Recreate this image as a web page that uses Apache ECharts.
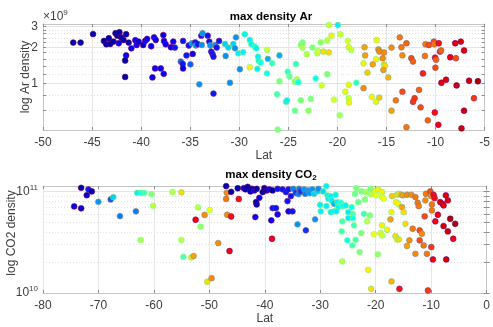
<!DOCTYPE html>
<html><head><meta charset="utf-8">
<script src="https://cdn.jsdelivr.net/npm/echarts@6/dist/echarts.min.js"></script>
<style>html,body{margin:0;padding:0;background:#fff}#c{width:493px;height:327px}</style>
</head><body><div id="c"></div>
<script>
// ---- Ar subplot: latitude, max density (x1e9), colour value (0..1, jet) ----
const arLat = [-46.92,-46.17,-44.90,-43.79,-43.55,-43.29,-43.15,-42.81,-42.61,-42.43,-42.21,-42.28,-42.04,-41.80,-41.53,-41.27,-41.00,-41.53,-41.63,-41.63,
-40.59,-40.46,-40.26,-39.79,-39.59,-39.39,-38.98,-38.68,-38.51,-38.58,-38.00,-38.85,-37.70,-37.74,-37.67,-37.50,-36.97,-36.73,-36.56,-35.96,
-35.76,-35.73,-35.38,-34.98,-35.73,-35.15,-34.82,-34.75,-34.48,-34.42,-34.21,-33.87,-33.74,-33.81,-33.21,-33.06,-32.96,-32.86,-32.73,-32.63,
-32.46,-32.30,-32.06,-34.07,-32.63,-31.45,-31.39,-31.12,-30.95,-30.61,-30.44,-30.34,-30.11,-29.94,-29.61,-29.44,-28.93,-28.77,-28.43,-28.27,
-28.93,-28.16,-28.09,-28.02,-27.82,-27.16,-27.09,-27.19,-26.65,-26.15,-25.91,-25.91,-26.08,-25.24,-25.14,-25.07,-24.90,-24.23,-24.33,-24.13,
-23.99,-24.33,-23.73,-23.56,-23.73,-23.56,-23.13,-22.95,-22.72,-22.55,-22.22,-22.05,-21.98,-21.71,-21.61,-21.44,-21.04,-21.04,-20.87,-20.87,
-20.60,-20.36,-19.96,-19.70,-19.76,-18.95,-18.85,-18.59,-18.85,-19.19,-18.85,-18.82,-18.08,-17.34,-17.34,-17.24,-17.18,-16.94,-16.50,-16.40,
-16.07,-16.00,-16.07,-15.73,-15.83,-15.73,-15.39,-15.26,-15.26,-15.16,-15.32,-14.82,-14.49,-14.49,-14.05,-13.65,-13.48,-13.38,-13.38,-12.97,
-12.97,-12.47,-12.30,-12.14,-12.30,-11.69,-11.53,-11.29,-11.09,-11.03,-10.79,-10.69,-10.18,-10.12,-10.05,-9.95,-10.02,-10.08,-9.68,-9.55,
-9.44,-9.72,-9.41,-8.94,-8.51,-8.00,-7.93,-7.86,-7.43,-7.10,-7.10,-7.36,-6.59,-6.09,-5.69];
const arDen = [2.19,2.19,2.58,2.26,2.12,2.38,2.13,2.23,2.62,2.50,2.67,2.16,2.42,2.30,2.57,2.19,1.96,1.71,1.55,1.13,
2.29,2.09,2.23,2.09,2.26,2.35,2.04,2.42,2.30,1.33,1.33,1.12,1.20,2.53,2.26,2.12,2.00,2.23,1.99,1.52,
1.45,1.33,1.71,1.44,2.26,2.07,2.16,1.76,2.20,2.07,2.12,2.50,2.62,2.09,2.50,2.23,2.07,1.84,1.76,1.67,
2.09,1.99,2.26,0.98,0.82,2.13,1.69,1.99,1.01,2.13,1.96,2.42,1.78,1.31,1.82,2.57,2.30,2.12,2.03,1.96,
1.36,1.32,1.67,1.54,1.49,1.90,1.60,1.21,1.47,0.81,1.71,1.04,0.41,0.70,0.72,1.25,1.14,1.45,1.03,1.08,
1.02,0.59,0.72,2.20,2.09,1.99,1.75,0.59,0.74,1.99,1.10,1.78,1.86,2.20,0.96,1.84,2.28,1.19,1.81,3.07,
2.50,0.73,3.07,2.57,0.54,2.26,2.00,1.90,0.97,0.85,0.75,0.69,1.01,1.47,0.91,2.00,1.71,1.23,0.77,1.44,
0.70,2.30,1.59,0.76,1.92,1.84,1.62,1.81,1.44,1.40,1.29,1.12,1.99,0.59,0.72,2.42,2.00,1.71,0.85,2.16,
0.43,1.62,1.52,0.75,0.70,0.88,0.63,1.21,1.69,2.12,0.49,2.09,2.23,2.12,1.64,1.57,1.35,0.57,2.16,1.84,
1.88,0.45,1.01,1.07,1.65,2.16,1.62,0.96,2.23,1.88,0.59,0.42,1.05,0.75,1.04];
const arCol = [.05,.05,.05,.05,.05,.05,.05,.05,.05,.05,.05,.12,.05,.05,.05,.05,.12,.12,.05,.05,
.12,.12,.10,.08,.12,.12,.12,.12,.12,.12,.12,.12,.12,.10,.12,.12,.12,.12,.15,.22,
.15,.12,.15,.22,.15,.15,.27,.12,.15,.27,.15,.15,.27,.27,.15,.15,.27,.15,.15,.15,
.27,.15,.15,.27,.15,.33,.27,.33,.27,.33,.27,.27,.36,.27,.36,.36,.36,.36,.38,.36,
.64,.36,.36,.36,.38,.58,.30,.38,.42,.44,.30,.50,.50,.36,.36,.42,.47,.42,.50,.56,
.38,.48,.50,.50,.50,.56,.56,.52,.50,.50,.38,.58,.58,.52,.60,.66,.56,.50,.66,.58,
.64,.60,.36,.58,.54,.60,.64,.58,.64,.64,.58,.64,.42,.64,.74,.72,.72,.68,.64,.72,
.64,.64,.64,.68,.74,.74,.74,.74,.66,.66,.72,.70,.74,.72,.76,.76,.76,.74,.80,.78,
.76,.80,.78,.82,.82,.78,.80,.84,.76,.76,.78,.80,.80,.76,.86,.78,.80,.86,.86,.84,
.78,.88,.90,.90,.88,.90,.80,.92,.90,.90,.92,.92,.92,.82,.95];

// ---- CO2 subplot: latitude, max density (x1e10), colour value ----
const coLat = [-73.12,-71.81,-71.20,-72.10,-74.38,-73.12,-70.02,-67.79,-67.32,-66.12,-63.25,-63.02,-62.23,-61.76,-60.43,-60.14,-62.41,-56.66,-55.04,-55.04,
-54.69,-53.25,-52.84,-52.06,-51.58,-52.48,-50.86,-49.96,-50.38,-49.60,-48.40,-46.97,-46.86,-46.97,-46.79,-46.07,-46.37,-46.07,-44.70,-44.88,
-43.81,-43.50,-43.09,-42.60,-42.30,-41.89,-41.47,-40.99,-41.58,-41.47,-41.71,-40.39,-40.09,-39.68,-39.19,-38.60,-37.70,-38.60,-37.99,-37.70,
-38.83,-38.71,-36.80,-36.19,-35.73,-35.30,-35.91,-35.73,-35.01,-34.88,-34.40,-33.81,-33.93,-33.50,-32.91,-32.73,-32.14,-31.89,-31.42,-31.11,
-30.52,-30.34,-29.50,-28.90,-28.72,-28.55,-28.11,-27.94,-27.52,-27.22,-26.93,-26.75,-26.32,-25.91,-30.04,-29.91,-28.90,-28.11,-27.52,-27.11,
-30.93,-34.11,-32.60,-26.03,-26.14,-26.03,-23.52,-23.75,-22.55,-21.72,-21.96,-20.93,-20.83,-20.16,-19.93,-19.57,-18.85,-18.85,-18.55,-26.03,
-25.42,-24.34,-24.11,-24.95,-24.95,-24.11,-23.16,-22.14,-21.06,-21.54,-23.93,-22.62,-25.13,-23.63,-24.24,-22.91,-19.62,-20.34,-19.14,-18.85,
-18.85,-17.95,-21.36,-20.83,-17.16,-17.05,-16.16,-15.85,-15.37,-15.13,-14.36,-13.57,-12.85,-16.34,-15.98,-15.26,-14.96,-17.16,-17.34,-14.65,
-16.45,-16.16,-15.85,-13.93,-14.36,-13.34,-12.85,-15.73,-12.44,-12.26,-11.18,-12.08,-11.67,-12.08,-11.36,-10.77,-10.95,-11.06,-10.16,-10.05,
-9.87,-9.87,-9.57,-9.39,-9.98,-9.69,-10.59,-9.26,-8.80,-8.37,-7.95,-7.77,-7.36,-7.00,-7.77,-7.00,-6.57,-5.67,-7.29,-6.03];
const coDen = [10.85,10.47,10.00,9.17,7.12,6.81,7.90,8.34,8.79,5.71,6.36,9.69,9.69,9.69,9.40,7.21,3.32,9.84,9.78,3.32,
2.27,2.24,2.31,6.96,4.50,5.26,5.87,6.55,1.29,1.40,3.10,11.27,9.69,8.43,5.89,5.66,2.59,9.91,8.43,10.74,
10.77,10.47,11.09,10.00,10.61,10.23,10.61,8.65,7.85,7.45,5.59,9.84,10.77,10.23,10.47,10.23,10.61,6.85,6.85,5.94,
5.19,3.42,10.47,9.84,10.47,8.99,8.03,6.36,6.36,10.61,9.69,10.61,9.40,10.00,10.47,9.47,10.23,9.62,10.47,9.47,
10.00,10.61,10.00,11.27,9.14,8.46,8.99,8.16,7.55,9.26,7.85,7.01,7.73,7.28,7.38,6.36,7.17,6.26,6.36,6.36,
5.31,4.74,4.14,5.07,4.04,2.05,10.77,9.47,10.00,9.84,8.34,10.61,9.35,10.00,9.14,10.47,9.84,8.79,8.46,7.17,
7.28,7.01,6.02,6.26,5.46,5.46,7.85,6.02,5.81,5.07,4.63,3.89,3.30,3.34,2.94,2.53,2.40,3.78,3.89,3.69,
4.63,4.19,1.69,1.10,1.30,8.99,9.26,9.47,9.26,9.14,9.26,9.26,8.79,7.85,7.55,7.01,6.26,6.26,5.31,4.80,
3.63,3.37,3.37,3.30,2.90,4.29,2.43,1.10,7.73,7.17,5.68,4.14,3.83,3.30,2.94,2.43,9.47,8.16,10.00,8.99,
7.45,6.50,9.26,8.59,2.83,2.14,1.06,5.07,5.89,7.85,7.55,7.28,9.14,8.16,4.56,4.04,5.38,4.80,2.14,3.42];
const coCol = [.05,.15,.05,.08,.12,.08,.27,.22,.33,.25,.25,.36,.38,.44,.50,.56,.54,.56,.66,.56,
.45,.65,.72,.56,.52,.88,.74,.62,.66,.74,.74,.05,.74,.76,.74,.86,.88,.05,.86,.05,
.12,.05,.05,.08,.05,.12,.05,.12,.05,.05,.12,.05,.05,.05,.12,.05,.15,.15,.15,.12,
.12,.88,.15,.15,.15,.15,.15,.12,.15,.25,.18,.25,.25,.18,.27,.25,.27,.27,.27,.33,
.33,.27,.34,.36,.36,.36,.36,.36,.30,.36,.36,.36,.38,.38,.36,.36,.36,.36,.36,.36,
.27,.27,.18,.44,.44,.56,.50,.48,.50,.54,.50,.50,.56,.64,.62,.64,.64,.62,.62,.38,
.36,.38,.46,.36,.36,.38,.48,.44,.50,.56,.44,.50,.38,.44,.44,.50,.52,.62,.64,.58,
.64,.64,.64,.66,.70,.68,.66,.66,.70,.72,.74,.74,.76,.64,.64,.72,.66,.64,.72,.66,
.66,.64,.66,.74,.72,.76,.74,.86,.76,.76,.80,.80,.74,.80,.76,.76,.76,.74,.80,.74,
.76,.76,.86,.86,.82,.88,.82,.88,.88,.90,.88,.90,.90,.90,.92,.92,.95,.95,.92,.88];

const AR_UNIT = 1e9, CO_UNIT = 1e10;
const arYMajor = [1e9, 2e9, 3e9];
const arYMinor = [0.6e9, 0.8e9, 1.2e9, 1.4e9, 1.6e9, 1.8e9, 2.2e9, 2.4e9, 2.6e9, 2.8e9];
const coYMajor = [1e10, 1e11];
const coYMinor = [2e10, 3e10, 4e10, 5e10, 6e10, 7e10, 8e10, 9e10];

function jetRGB(t) {
  const c = v => Math.max(0, Math.min(1, v));
  return [c(Math.min(4 * t - 1.5, -4 * t + 4.5)), c(Math.min(4 * t - 0.5, -4 * t + 3.5)), c(Math.min(4 * t + 0.5, -4 * t + 2.5))];
}
function rgb(a) { return 'rgb(' + a.map(v => Math.round(255 * v)).join(',') + ')'; }
function edge(t) {
  const a = jetRGB(1 - t), b = jetRGB(t);
  return rgb(a.map((v, i) => 0.55 * v + 0.45 * b[i]));
}
function pts(lat, den, col, unit) {
  return lat.map((x, i) => ({
    value: [x, den[i] * unit],
    itemStyle: { color: rgb(jetRGB(col[i])), borderColor: edge(col[i]) }
  }));
}
const FONT = 'Liberation Sans, Arial, Helvetica, sans-serif';
const AXC = '#c4c4c4', TXT = '#404040';

function gridLines(major, minor) {
  return {
    silent: true, symbol: 'none', label: { show: false }, animation: false, z: 0,
    data: major.map(v => ({ yAxis: v, lineStyle: { color: '#e4e4e4', type: 'solid', width: 1 } }))
      .concat(minor.map(v => ({ yAxis: v, lineStyle: { color: '#e2e2e2', type: [1, 2], width: 1 } })))
  };
}
function xAx(grid, min, max, interval, showLabels, pos) {
  return {
    gridIndex: grid, type: 'value', min: min, max: max, interval: interval, position: pos,
    axisLine: { show: true, onZero: false, lineStyle: { color: AXC, width: 1 } },
    axisTick: { show: true, inside: true, length: 3, lineStyle: { color: '#8c8c8c' } },
    axisLabel: { show: showLabels, color: TXT, fontSize: 12, fontFamily: FONT, margin: 7 },
    splitLine: { show: showLabels, lineStyle: { color: '#e6e6e6', width: 1 } },
    name: showLabels ? 'Lat' : '', nameLocation: 'middle', nameGap: 20,
    nameTextStyle: { color: TXT, fontSize: 12, fontFamily: FONT }
  };
}
function yAx(grid, min, max, major, minor, fmt, showLabels, pos) {
  return {
    gridIndex: grid, type: 'log', logBase: 10, min: min, max: max, position: pos,
    axisLine: { show: true, lineStyle: { color: AXC, width: 1 } },
    axisTick: { show: true, inside: true, length: 3, customValues: major.concat(minor), lineStyle: { color: '#8c8c8c' } },
    axisLabel: {
      show: showLabels, customValues: major, formatter: fmt, color: TXT, fontSize: 12, fontFamily: FONT, margin: 5,
      rich: { b: { fontSize: 12, fontFamily: FONT, color: TXT }, s: { fontSize: 8, fontFamily: FONT, color: TXT, padding: [0, 0, 8, 0] } }
    },
    splitLine: { show: false }
  };
}
function vText(text, x, y) {
  return { type: 'text', x: x, y: y, rotation: Math.PI / 2,
    style: { text: text, fill: TXT, fontSize: 12, fontFamily: FONT, align: 'center', verticalAlign: 'middle' } };
}

const chart = echarts.init(document.getElementById('c'), null, { renderer: 'canvas' });
chart.setOption({
  animation: false,
  backgroundColor: '#fff',
  title: [
    { text: 'max density Ar', left: 266, top: 6, textAlign: 'center',
      textStyle: { fontSize: 11.5, fontWeight: 'bold', color: '#000', fontFamily: FONT } },
    { text: 'max density CO{s|2}', left: 266, top: 162, textAlign: 'center',
      textStyle: { fontSize: 11.5, fontWeight: 'bold', color: '#000', fontFamily: FONT,
        rich: { s: { fontSize: 8, fontWeight: 'bold', color: '#000', fontFamily: FONT, padding: [7, 0, 0, 0] } } } }
  ],
  graphic: [
    { type: 'text', left: 43, top: 9,
      style: { text: '×10{s|9}', fill: TXT, fontSize: 12, fontFamily: FONT,
        rich: { s: { fontSize: 8, fontFamily: FONT, fill: TXT, padding: [0, 0, 8, 0] } } } },
    vText('log Ar density', 26, 77),
    vText('log CO2 density', 12, 233)
  ],
  grid: [
    { left: 43, right: 4, top: 24, height: 106, show: false },
    { left: 43, right: 5, top: 186, height: 107, show: false }
  ],
  xAxis: [
    xAx(0, -50, -5, 5, true, 'bottom'),
    xAx(0, -50, -5, 5, false, 'top'),
    xAx(1, -80, 0, 10, true, 'bottom'),
    xAx(1, -80, 0, 10, false, 'top')
  ],
  yAxis: [
    yAx(0, 0.407e9, 3.13e9, arYMajor, arYMinor, v => String(Math.round(v / AR_UNIT)), true, 'left'),
    yAx(0, 0.407e9, 3.13e9, arYMajor, arYMinor, null, false, 'right'),
    yAx(1, 1e10, 1.13e11, coYMajor, coYMinor, v => '{b|10}{s|' + Math.round(Math.log10(v)) + '}', true, 'left'),
    yAx(1, 1e10, 1.13e11, coYMajor, coYMinor, null, false, 'right')
  ],
  series: [
    { type: 'scatter', xAxisIndex: 0, yAxisIndex: 0, data: [], z: 1, markLine: gridLines(arYMajor, arYMinor) },
    { type: 'scatter', xAxisIndex: 2, yAxisIndex: 2, data: [], z: 1, markLine: gridLines(coYMajor, coYMinor) },
    { type: 'scatter', xAxisIndex: 0, yAxisIndex: 0, z: 3, symbolSize: 5.8,
      itemStyle: { borderWidth: 0.6, opacity: 1 }, emphasis: { disabled: true },
      data: pts(arLat, arDen, arCol, AR_UNIT) },
    { type: 'scatter', xAxisIndex: 2, yAxisIndex: 2, z: 3, symbolSize: 5.8,
      itemStyle: { borderWidth: 0.6, opacity: 1 }, emphasis: { disabled: true },
      data: pts(coLat, coDen, coCol, CO_UNIT) }
  ]
});
</script>
</body></html>
